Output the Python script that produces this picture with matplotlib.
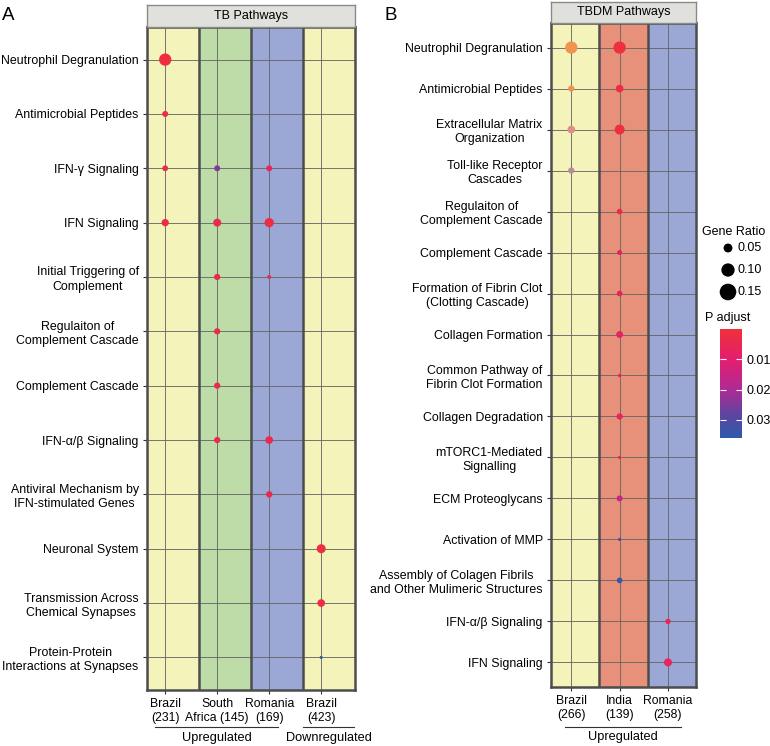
import numpy as np
import matplotlib
matplotlib.use('Agg')
import matplotlib.pyplot as plt
from matplotlib.colors import LinearSegmentedColormap, Normalize
from matplotlib.cm import ScalarMappable

plt.rcParams['font.family'] = ['Liberation Sans', 'DejaVu Sans']

# ---- panel A : TB pathways ----
pathways_a = ['Neutrophil Degranulation', 'Antimicrobial Peptides', 'IFN-γ Signaling',
              'IFN Signaling', 'Initial Triggering of\nComplement',
              'Regulaiton of\nComplement Cascade', 'Complement Cascade',
              'IFN-α/β Signaling', 'Antiviral Mechanism by\nIFN-stimulated Genes',
              'Neuronal System', 'Transmission Across\nChemical Synapses',
              'Protein-Protein\nInteractions at Synapses']
cohorts_a = ['Brazil\n(231)', 'South\nAfrica (145)', 'Romania\n(169)', 'Brazil\n(423)']
band_colors_a = ['#F3F3BA', '#BDDCA8', '#9BA8D5', '#F3F3BA']

pw_a = [0, 1, 2, 2, 2, 3, 3, 3, 4, 4, 5, 6, 7, 7, 8, 9, 10, 11]
co_a = [0, 0, 0, 1, 2, 0, 1, 2, 1, 2, 1, 1, 1, 2, 2, 3, 3, 3]
ratio_a = [0.0875, 0.026, 0.025, 0.026, 0.026, 0.036, 0.042, 0.054, 0.028, 0.014,
           0.028, 0.028, 0.028, 0.039, 0.029, 0.051, 0.039, 0.010]
padj_a = [0.001, 0.002, 0.003, 0.024, 0.007, 0.002, 0.003, 0.002, 0.003, 0.004,
          0.003, 0.003, 0.003, 0.004, 0.005, 0.001, 0.002, 0.034]

# ---- panel B : TBDM pathways ----
pathways_b = ['Neutrophil Degranulation', 'Antimicrobial Peptides',
              'Extracellular Matrix\nOrganization', 'Toll-like Receptor\nCascades',
              'Regulaiton of\nComplement Cascade', 'Complement Cascade',
              'Formation of Fibrin Clot\n(Clotting Cascade)', 'Collagen Formation',
              'Common Pathway of\nFibrin Clot Formation', 'Collagen Degradation',
              'mTORC1-Mediated\nSignalling', 'ECM Proteoglycans', 'Activation of MMP',
              'Assembly of Colagen Fibrils\nand Other Mulimeric Structures',
              'IFN-α/β Signaling', 'IFN Signaling']
cohorts_b = ['Brazil\n(266)', 'India\n(139)', 'Romania\n(258)']
band_colors_b = ['#F3F3BA', '#E8917A', '#9BA8D5']

pw_b = [0, 1, 2, 3, 0, 1, 2, 4, 5, 6, 7, 8, 9, 10, 11, 12, 13, 14, 15]
co_b = [0, 0, 0, 0, 1, 1, 1, 1, 1, 1, 1, 1, 1, 1, 1, 1, 1, 2, 2]
ratio_b = [0.0875, 0.028, 0.039, 0.028, 0.0875, 0.039, 0.061, 0.024, 0.020, 0.024,
           0.033, 0.012, 0.028, 0.011, 0.026, 0.011, 0.024, 0.022, 0.042]
padj_b = [0.001, 0.002, 0.015, 0.030, 0.001, 0.002, 0.001, 0.003, 0.008, 0.007,
          0.008, 0.006, 0.007, 0.006, 0.016, 0.028, 0.035, 0.005, 0.007]

legend_ratios = [0.05, 0.10, 0.15]
cbar_ticks = [0.01, 0.02, 0.03]

cmap = LinearSegmentedColormap.from_list(
    'padj', [(0, '#F0303A'), (0.28, '#E41E6E'), (0.55, '#B02A94'),
             (0.8, '#5A46A0'), (1, '#2C5BAA')])
# Brazil column in panel B is drawn in washed-out tones
cmap_faded = LinearSegmentedColormap.from_list(
    'faded', [(0, '#F0954A'), (0.45, '#DC8F8C'), (0.85, '#B48C9A'), (1, '#A88AA0')])
norm = Normalize(vmin=0, vmax=0.036)

W, H = 770, 746
GRID = '#666666'
EDGE = '#4d4d4d'
FS = 8.9


def size_of(r):
    # diameter in pixels -> marker area in points^2
    d = 47 * np.sqrt(np.asarray(r)) - 1.6
    return (d * 0.72) ** 2


def px_axes(x0, y0, x1, y1):
    return fig.add_axes([x0 / W, 1 - y1 / H, (x1 - x0) / W, (y1 - y0) / H])


def panel(box, strip_box, pathways, cohorts, bands, lo, pw, co, ratio, padj,
          title, colors=None):
    ax = px_axes(*box)
    n = len(pathways)
    for i, c in enumerate(bands):
        ax.axvspan(i + lo, i + lo + 1, color=c, zorder=0, lw=0)
    for i in range(1, len(bands)):
        ax.axvline(i + lo, color=EDGE, lw=1.8, zorder=2)
    for i in range(len(cohorts)):
        ax.axvline(i, color=GRID, lw=0.7, alpha=0.9, zorder=1)
    for j in range(n):
        ax.axhline(j, color=GRID, lw=0.7, alpha=0.9, zorder=1)

    if colors is None:
        colors = cmap(norm(padj))
    ax.scatter(co, pw, s=size_of(ratio), c=colors, zorder=3, lw=0)

    ax.set_xlim(lo, len(bands) + lo)
    ax.set_ylim(n - 0.4, -0.6)
    ax.set_yticks(range(n))
    ax.set_yticklabels(pathways, fontsize=FS)
    for t in ax.get_yticklabels():
        t.set_multialignment('center')
        t.set_linespacing(1.25)
    ax.set_xticks(range(len(cohorts)))
    ax.set_xticklabels(cohorts, fontsize=8.8)
    for t in ax.get_xticklabels():
        t.set_multialignment('center')
    ax.tick_params(length=3, width=0.8, color='#333333', pad=3)
    for s in ax.spines.values():
        s.set_color(EDGE)
        s.set_linewidth(1.8)

    st = px_axes(*strip_box)
    st.set_facecolor('#E0E0DC')
    st.set_xticks([])
    st.set_yticks([])
    for s in st.spines.values():
        s.set_color('#8a8a8a')
        s.set_linewidth(1.0)
    st.text(0.5, 0.5, title, ha='center', va='center', fontsize=9,
            transform=st.transAxes)
    return ax


def group_line(ax, x0, x1, y_line, y_text, label):
    tr = ax.get_xaxis_transform()
    ax.plot([x0, x1], [y_line, y_line], color='#333333', lw=0.8,
            transform=tr, clip_on=False)
    ax.text((x0 + x1) / 2, y_text, label, ha='center', va='center',
            fontsize=9.2, transform=tr)


fig = plt.figure(figsize=(7.7, 7.46), dpi=100)

ax_a = panel((147, 27, 355, 690), (147, 5, 355, 27), pathways_a, cohorts_a,
             band_colors_a, -0.35, pw_a, co_a, ratio_a, padj_a, 'TB Pathways')
group_line(ax_a, -0.19, 2.17, -0.056, -0.072, 'Upregulated')
group_line(ax_a, 2.65, 3.64, -0.056, -0.072, 'Downregulated')

cols_b = [cmap_faded(norm(p)) if c == 0 else cmap(norm(p)) for c, p in zip(co_b, padj_b)]
ax_b = panel((551, 23, 696, 687), (551, 2, 696, 23), pathways_b, cohorts_b,
             band_colors_b, -0.42, pw_b, co_b, ratio_b, padj_b, 'TBDM Pathways',
             colors=cols_b)
group_line(ax_b, -0.14, 2.27, -0.060, -0.076, 'Upregulated')

fig.text(2 / W, 1 - 15 / H, 'A', fontsize=13.5, va='center', ha='left')
fig.text(385 / W, 1 - 15 / H, 'B', fontsize=13.5, va='center', ha='left')

# size legend
fig.text(702 / W, 1 - 232 / H, 'Gene Ratio', fontsize=9, va='center', ha='left')
lg = px_axes(715, 237, 770, 303)
lg.axis('off')
lg.set_xlim(0, 55)
lg.set_ylim(2.5, -0.5)
lg.scatter([13] * len(legend_ratios), range(len(legend_ratios)),
           s=size_of(legend_ratios), c='black', lw=0)
for i, r in enumerate(legend_ratios):
    lg.text(22, i, '%.2f' % r, fontsize=9, va='center', ha='left')

# colour bar
fig.text(705 / W, 1 - 318 / H, 'P adjust', fontsize=9, va='center', ha='left')
cax = px_axes(720, 329, 742, 438)
cb = fig.colorbar(ScalarMappable(norm=norm, cmap=cmap), cax=cax)
cb.outline.set_visible(False)
cax.invert_yaxis()
cb.set_ticks(cbar_ticks)
cb.set_ticklabels(['%.2f' % t for t in cbar_ticks])
cax.yaxis.set_ticks_position('both')
cax.tick_params(direction='in', color='white', length=4, width=0.8,
                labelsize=9, pad=3, labelleft=False, labelright=True)

fig.savefig('out.png', dpi=100)
